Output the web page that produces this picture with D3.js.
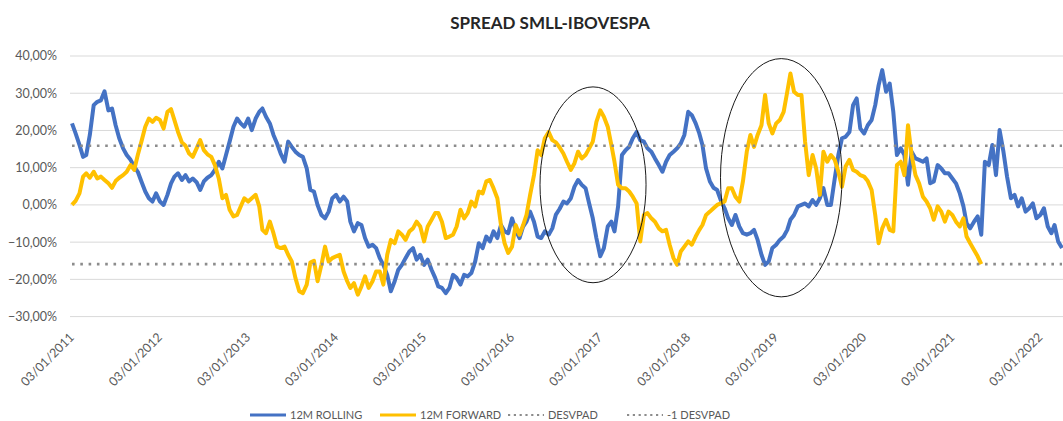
<!DOCTYPE html>
<html>
<head>
<meta charset="utf-8">
<script src="https://cdn.jsdelivr.net/npm/d3@7"></script>
<style>
  body { margin: 0; background: #fff; }
  svg { font-family: Lato, "Open Sans", sans-serif; }
</style>
</head>
<body>
<div id="chart"></div>
<script>
"use strict";

// semi-monthly observations starting 03/01/2011 (3rd and 18th of each month)
var rolling = [
  21.9, 19.2, 16.1, 12.9, 13.4, 18.8, 26.8, 27.7, 28.1, 30.5,
  25.4, 25.9, 21.4, 17.9, 15.2, 13.4, 12.1, 10.3, 8.9, 6.3,
  3.6, 1.8, 0.9, 3.1, 0.9, 0.0, 2.7, 5.8, 7.6, 8.5,
  6.7, 8.0, 6.3, 7.1, 6.1, 4.0, 6.3, 7.3, 8.0, 9.4,
  11.6, 9.8, 13.4, 17.0, 21.0, 23.2, 21.9, 21.0, 23.2, 20.1,
  23.2, 25.0, 25.9, 23.7, 21.9, 18.8, 16.5, 13.8, 11.6, 17.0,
  15.6, 14.3, 13.4, 12.9, 9.8, 4.0, 3.6, 0.0, -2.7, -3.6,
  -1.8, 1.8, 2.7, 0.9, 2.2, 0.9, -4.5, -7.1, -4.9, -5.4,
  -8.9, -11.2, -10.7, -11.6, -14.3, -16.1, -18.8, -23.2, -20.5, -17.4,
  -16.1, -14.3, -12.5, -11.6, -14.7, -13.4, -16.1, -14.7, -17.4, -19.6,
  -21.9, -22.3, -23.7, -22.3, -18.8, -19.6, -21.4, -18.8, -19.2, -18.3,
  -15.2, -10.3, -11.6, -8.5, -9.8, -7.1, -8.9, -5.4, -7.1, -7.6,
  -3.6, -6.7, -8.9, -5.8, -4.5, -1.8, -4.5, -8.5, -8.9, -7.1,
  -8.0, -6.3, -2.6, -1.1, 0.9, 0.4, 1.8, 4.9, 6.7, 5.4,
  4.5, 0.4, -3.6, -8.9, -13.8, -11.6, -5.8, -4.5, -7.1, -0.4,
  13.4, 14.7, 15.6, 17.9, 19.6, 17.4, 17.0, 15.2, 14.3, 12.5,
  10.7, 8.9, 11.6, 13.4, 14.3, 15.2, 16.5, 18.8, 25.0, 24.1,
  21.9, 19.2, 16.1, 9.8, 6.3, 4.6, 4.0, 1.3, -0.9, -3.6,
  -5.4, -2.7, -5.8, -7.6, -8.0, -7.6, -6.7, -9.4, -13.4, -16.1,
  -15.2, -11.6, -10.7, -9.4, -8.5, -6.7, -4.0, -2.7, -0.4, 0.0,
  0.4, -0.4, 1.3, 0.0, 1.8, 4.5, 0.0, 0.0, 7.1, 13.4,
  17.9, 18.3, 19.6, 26.8, 28.6, 20.5, 19.2, 21.4, 22.8, 26.8,
  32.1, 36.2, 30.4, 32.6, 25.0, 13.4, 15.2, 13.4, 5.4, 14.3,
  12.5, 12.1, 11.6, 12.5, 5.8, 6.3, 10.7, 9.8, 8.5, 8.5,
  7.1, 5.8, 3.1, -0.4, -4.9, -6.3, -4.5, -3.1, -8.0, 11.6,
  10.7, 16.1, 8.0, 20.1, 14.3, 7.6, 1.8, 2.7, -0.4, 1.8,
  -1.8, -0.9, 0.4, -3.6, -2.7, -0.9, -5.8, -7.6, -5.4, -9.8,
  -11.6
];

var forward = [
  0.0, 1.1, 3.1, 7.6, 8.5, 7.3, 8.9, 7.1, 7.6, 6.7,
  5.8, 4.6, 6.4, 7.3, 8.0, 8.9, 10.7, 9.4, 13.4, 17.0,
  21.0, 23.2, 22.3, 23.4, 22.8, 20.5, 25.0, 25.7, 22.8, 19.6,
  16.8, 15.9, 13.8, 12.9, 15.2, 17.4, 14.7, 13.6, 12.9, 10.7,
  7.1, 1.8, 2.7, -1.3, -3.1, -2.7, -0.4, 1.8, 0.9, 1.8,
  2.7, -0.4, -6.7, -7.6, -4.5, -7.6, -11.2, -11.6, -11.2, -13.4,
  -15.2, -19.6, -23.2, -23.7, -21.4, -15.5, -15.0, -20.5, -16.1, -11.2,
  -15.2, -14.3, -13.8, -13.4, -17.9, -20.5, -22.3, -21.0, -24.1, -21.9,
  -19.2, -22.3, -20.5, -17.9, -17.9, -21.4, -13.4, -9.4, -10.3, -7.1,
  -8.0, -9.4, -7.1, -6.3, -4.5, -5.8, -9.8, -5.8, -4.0, -2.2,
  -2.2, -4.5, -8.9, -8.5, -8.0, -5.8, -1.3, -3.6, -2.2, 0.9,
  -0.4, 3.6, 3.1, 6.3, 6.7, 4.5, 1.8, -5.4, -10.3, -12.9,
  -11.2, -5.4, -8.0, -5.4, -2.7, 2.7, 8.0, 14.7, 13.4, 17.9,
  19.6, 17.4, 16.8, 15.5, 13.8, 11.6, 9.4, 11.2, 14.3, 12.5,
  13.4, 15.2, 17.0, 22.3, 25.4, 23.7, 21.0, 16.1, 11.6, 5.4,
  4.5, 4.5, 3.6, 2.2, 0.4, -9.8, -2.7, -2.2, -3.6, -4.5,
  -6.3, -7.1, -6.7, -10.7, -14.3, -16.1, -12.5, -11.2, -9.8, -10.7,
  -8.5, -6.7, -5.4, -2.7, -1.8, -0.9, 0.0, 0.4, 0.9, 4.5,
  4.5, 2.2, 0.9, 6.3, 14.3, 18.8, 15.6, 18.8, 21.4, 29.5,
  21.9, 19.2, 21.9, 22.8, 25.0, 30.4, 35.3, 30.4, 29.5, 29.5,
  17.0, 8.0, 13.4, 9.8, 2.7, 14.3, 11.6, 13.4, 12.1, 8.9,
  4.9, 10.3, 12.1, 9.4, 8.9, 8.0, 7.6, 6.4, 4.0, -2.7,
  -10.3, -6.3, -4.0, -6.7, -7.1, 10.7, 11.6, 8.0, 21.4, 13.4,
  8.0, 5.8, 2.2, 0.9, -0.9, -4.0, -0.4, -1.8, -4.5, -1.8,
  -2.7, -4.5, -5.8, -3.6, -8.5, -10.3, -12.1, -13.8, -15.9
];

var desvpad = 15.9;
var yTicks = [-30, -20, -10, 0, 10, 20, 30, 40];
var xTickYears = [2011, 2012, 2013, 2014, 2015, 2016, 2017, 2018, 2019, 2020, 2021, 2022];

// circled periods: centre date, centre value, half width (days), half height (%)
var circles = [
  { date: "2016-12-04", value: 5.4, days: 220, span: 26.3 },
  { date: "2019-01-24", value: 7.3, days: 252, span: 32.0 }
];

var legendItems = [
  { label: "12M ROLLING", color: "#4472c4", dots: false, x: 250 },
  { label: "12M FORWARD", color: "#ffc000", dots: false, x: 380 },
  { label: "DESVPAD", color: "#8c8c8c", dots: true, x: 508 },
  { label: "-1 DESVPAD", color: "#8c8c8c", dots: true, x: 627 }
];

function obsDate(i) {
  return new Date(2011, Math.floor(i / 2), i % 2 === 0 ? 3 : 18);
}

function drawChart()
{
  var w = 1063;
  var h = 421;

  var svg = d3.select("#chart")
              .append("svg")
              .attr("width", w)
              .attr("height", h);

  var x = d3.scaleTime()
            .domain([new Date(2011, 0, 3), new Date(2022, 3, 3)])
            .range([72, 1062]);

  var y = d3.scaleLinear()
            .domain([-30, 40])
            .range([316.6, 56]);

  var pct = d3.formatLocale({ decimal: ",", thousands: ".", grouping: [3], currency: ["R$", ""] })
              .format(".2f");

  // gridlines
  svg.selectAll("line.grid")
     .data(yTicks)
     .enter().append("line")
     .attr("class", "grid")
     .attr("x1", 70)
     .attr("x2", w)
     .attr("y1", function(d) { return y(d); })
     .attr("y2", function(d) { return y(d); })
     .attr("stroke", "#d9d9d9")
     .attr("stroke-width", 1);

  svg.selectAll("text.ylab")
     .data(yTicks)
     .enter().append("text")
     .attr("class", "ylab")
     .attr("x", 57)
     .attr("y", function(d) { return y(d); })
     .attr("dy", "0.35em")
     .attr("text-anchor", "end")
     .style("font-size", "12.5px")
     .attr("fill", "#595959")
     .text(function(d) { return pct(d) + "%"; });

  svg.selectAll("text.xlab")
     .data(xTickYears)
     .enter().append("text")
     .attr("class", "xlab")
     .attr("text-anchor", "end")
     .style("font-size", "12.5px")
     .attr("fill", "#595959")
     .attr("transform", function(d) {
        return "translate(" + (x(new Date(d, 0, 3)) + 3) + ",338) rotate(-45)";
     })
     .text(function(d) { return "03/01/" + d; });

  var line = d3.line()
               .x(function(d) { return x(d.date); })
               .y(function(d) { return y(d.v); });

  var rollingPts = rolling.map(function(v, i) { return { date: obsDate(i), v: v }; });
  var forwardPts = forward.map(function(v, i) { return { date: obsDate(i), v: v }; });

  svg.append("path")
     .datum(rollingPts)
     .attr("fill", "none")
     .attr("stroke", "#4472c4")
     .attr("stroke-width", 4)
     .attr("stroke-linejoin", "round")
     .attr("d", line);

  svg.append("path")
     .datum(forwardPts)
     .attr("fill", "none")
     .attr("stroke", "#ffc000")
     .attr("stroke-width", 4)
     .attr("stroke-linejoin", "round")
     .attr("d", line);

  // +/- 1 standard deviation
  var lastDate = obsDate(rolling.length - 1);
  svg.selectAll("line.sd")
     .data([desvpad, -desvpad])
     .enter().append("line")
     .attr("class", "sd")
     .attr("x1", x(obsDate(0)))
     .attr("x2", x(lastDate))
     .attr("y1", function(d) { return y(d); })
     .attr("y2", function(d) { return y(d); })
     .attr("stroke", "#8c8c8c")
     .attr("stroke-width", 2.6)
     .attr("stroke-dasharray", "2.6,5.7");

  svg.selectAll("ellipse")
     .data(circles)
     .enter().append("ellipse")
     .attr("cx", function(d) { return x(new Date(d.date)); })
     .attr("cy", function(d) { return y(d.value); })
     .attr("rx", function(d) {
        var c = new Date(d.date);
        return x(d3.timeDay.offset(c, d.days)) - x(c);
     })
     .attr("ry", function(d) { return y(0) - y(d.span); })
     .attr("fill", "none")
     .attr("stroke", "#1a1a1a")
     .attr("stroke-width", 1);

  svg.append("text")
     .attr("x", 550)
     .attr("y", 29)
     .attr("text-anchor", "middle")
     .style("font-size", "17px")
     .style("font-weight", "bold")
     .attr("fill", "#262626")
     .text("SPREAD SMLL-IBOVESPA");

  var legend = svg.selectAll(".legend")
                  .data(legendItems)
                  .enter().append("g")
                  .attr("class", "legend")
                  .attr("transform", function(d) { return "translate(" + d.x + ",415)"; });

  legend.append("line")
        .attr("x1", 0)
        .attr("x2", 36)
        .attr("stroke", function(d) { return d.color; })
        .attr("stroke-width", function(d) { return d.dots ? 2.2 : 3; })
        .attr("stroke-dasharray", function(d) { return d.dots ? "2.2,3.6" : null; });

  legend.append("text")
        .attr("x", 40)
        .attr("dy", "0.35em")
        .style("font-size", "11px")
        .attr("fill", "#595959")
        .text(function(d) { return d.label; });
}

window.addEventListener('load', function (){
  drawChart();
});
</script>
</body>
</html>
